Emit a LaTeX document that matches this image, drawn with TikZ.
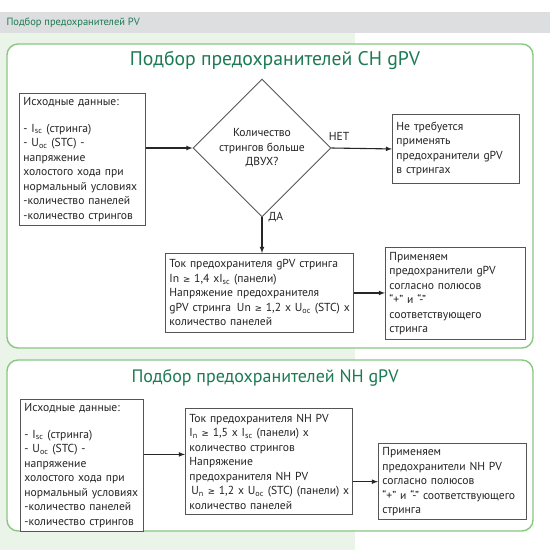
\documentclass[tikz,border=0pt]{standalone}
\usepackage{fontspec}
\setmainfont{PT Sans}
\newfontfamily\symfont[Scale=0.75]{DejaVu Sans}
\usetikzlibrary{shapes.geometric}

\definecolor{bandgray}{RGB}{221,222,223}
\definecolor{bggreen}{RGB}{234,244,232}
\definecolor{framegreen}{RGB}{138,198,132}
\definecolor{titlegreen}{RGB}{28,122,84}
\definecolor{boxgray}{RGB}{85,85,85}
\definecolor{txtgray}{RGB}{35,35,35}

\newcommand{\Isc}{I\textsubscript{sc}}
\newcommand{\Uoc}{U\textsubscript{oc}}
\newcommand{\gesym}{{\symfont ≥}}

\tikzset{
  databox/.style={draw=boxgray, line width=0.9pt, fill=white, anchor=north west,
    align=left, inner sep=4pt, text=txtgray,
    font=\fontsize{11.6}{14.5}\selectfont},
  frame/.style={draw=framegreen, line width=1.4pt, fill=white, rounded corners=11pt},
  arr/.style={-latex, line width=1.1pt, draw=black!85},
  lbl/.style={text=txtgray, font=\fontsize{11.6}{14.5}\selectfont},
}

\begin{document}
\begin{tikzpicture}[x=1pt,y=-1pt]
    \useasboundingbox (0,0) rectangle (550,550);

    % Background and header band
    \fill[bandgray] (0,12) rectangle (550,33);
    \fill[bggreen] (0,33) rectangle (355,550);
    \node[anchor=west, text=titlegreen, font=\fontsize{10.5}{12}\selectfont] (header) at (3,23) {Подбор предохранителей PV};

    % Two green frames
    \draw[frame] (7,44) rectangle (533,348);
    \draw[frame] (7,360) rectangle (533,531);

    % Titles
    \node[text=titlegreen, font=\fontsize{19.7}{22}\selectfont] (titleCH) at (275,60) {Подбор предохранителей CH gPV};
    \node[text=titlegreen, font=\fontsize{18}{22}\selectfont] (titleNH) at (265,378) {Подбор предохранителей NH gPV};

    % --- CH gPV ---
    \node[databox, minimum width=126pt, minimum height=131pt, text width=118pt] (srcCH) at (19,93)
      {Исходные данные:\\[12pt]
       - \Isc{} (стринга)\\
       - \Uoc{} (STC) -\\
       напряжение\\
       холостого хода при\\
       нормальный условиях\\
       -количество панелей\\
       -количество стрингов};

    \node[diamond, aspect=1, draw=boxgray, line width=0.9pt, fill=white, inner sep=0pt,
          minimum width=138pt, minimum height=138pt, align=center, text=txtgray,
          font=\fontsize{11.6}{14.5}\selectfont] (qty) at (262,148)
      {Количество\\стрингов больше\\ДВУХ?};

    \node[databox, minimum width=127pt, minimum height=69pt, text width=119pt] (noneCH) at (392,114)
      {Не требуется\\применять\\предохранители gPV\\в стрингах};

    \node[databox, minimum width=188pt, minimum height=79pt, text width=180pt] (fuseCH) at (165,253)
      {Ток предохранителя gPV стринга\\
       In \gesym{} 1,4 x\Isc{} (панели)\\
       Напряжение предохранителя\\
       \mbox{gPV стринга\, Un \gesym{} 1,2 x \Uoc{} (STC) x}\\
       количество панелей};

    \node[databox, minimum width=140pt, minimum height=92pt, text width=132pt] (applyCH) at (385,247)
      {Применяем\\предохранители gPV\\согласно полюсов\\“+” и “-”\\соответствующего\\стринга};

    \node[lbl] (noLbl) at (339,136) {НЕТ};
    \node[lbl] (yesLbl) at (276,217) {ДА};

    \draw[arr] (srcCH.east |- qty.west) -- (qty.west);
    \draw[arr] (qty.east) -- (noneCH.west);
    \draw[arr] (qty.south) -- (qty.south |- fuseCH.north);
    \draw[arr] (fuseCH.east) -- (fuseCH.east -| applyCH.west);

    % --- NH gPV ---
    \node[databox, minimum width=123pt, minimum height=130pt, text width=115pt] (srcNH) at (20,399)
      {Исходные данные:\\[12pt]
       - \Isc{} (стринга)\\
       - \Uoc{} (STC) -\\
       напряжение\\
       холостого хода при\\
       нормальный условиях\\
       -количество панелей\\
       -количество стрингов};

    \node[databox, minimum width=167pt, minimum height=106pt, text width=159pt] (fuseNH) at (185,408)
      {Ток предохранителя NH PV\\
       I\textsubscript{n} \gesym{} 1,5 x \Isc{} (панели) x\\
       количество стрингов\\
       Напряжение\\
       предохранителя NH PV\\
       \mbox{\,U\textsubscript{n} \gesym{} 1,2 x \Uoc{} (STC) (панели) x}\\
       количество панелей};

    \node[databox, minimum width=148pt, minimum height=76pt, text width=140pt] (applyNH) at (378,443)
      {Применяем\\предохранители NH PV\\согласно полюсов\\“+” и “-” соответствующего\\стринга};

    \draw[arr] ([yshift=11pt]srcNH.east) -- ([yshift=11pt]srcNH.east -| fuseNH.west);
    \draw[arr] (fuseNH.east |- applyNH.west) -- (applyNH.west);

\end{tikzpicture}
\end{document}
